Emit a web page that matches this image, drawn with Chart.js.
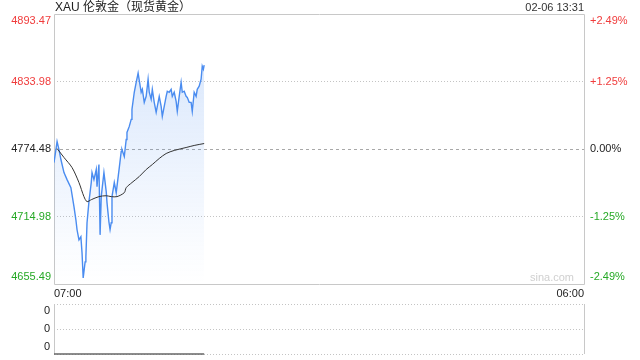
<!DOCTYPE html>
<html>
<head>
<meta charset="utf-8">
<script src="https://cdn.jsdelivr.net/npm/chart.js@4/dist/chart.umd.min.js"></script>
<style>
  body { margin: 0; background: #fff; width: 640px; height: 360px; position: relative; overflow: hidden; }
  #main { position: absolute; left: 0; top: 0; }
  #vol { position: absolute; left: 0; top: 296px; }
  #title { position: absolute; left: 55px; top: 0; font: 12px/14px "Liberation Sans", "Noto Sans CJK SC", sans-serif; color: #222; }
  #stamp { position: absolute; right: 56px; top: 0; font: 11px/14px "Liberation Sans", Arial, sans-serif; color: #333; }
</style>
</head>
<body>
<canvas id="main" width="640" height="300"></canvas>
<canvas id="vol" width="640" height="64"></canvas>
<div id="title">XAU 伦敦金（现货黄金）</div>
<div id="stamp">02-06 13:31</div>
<script>
// 昨收 / 坐标范围
const prevClose = 4774.48
const priceTicks = [4655.49, 4714.98, 4774.48, 4833.98, 4893.47]
const timeLabels = ['07:00', '06:00']
const sessionMinutes = 1380   // 07:00 -> 次日 06:00

// 分时价格 (分钟偏移, 价格)
const priceMinutes = [0, 5, 8, 13, 18, 26, 34, 44, 52, 57, 60, 65, 70, 73, 76, 81, 83, 86, 91, 97,
  99, 104, 110, 112, 117, 120, 123, 125, 130, 136, 138, 143, 146, 149, 151, 157, 162, 170, 175, 177, 183,
  188, 190, 196, 201, 203, 209, 214, 219, 227, 230, 235, 240, 245, 248, 253, 256, 261, 266, 269, 274,
  279, 282, 287, 292, 295, 300, 305, 308, 313, 318, 321, 326, 331, 334, 339, 344, 347, 352, 357, 360,
  365, 370, 373, 378, 383, 386, 389, 391]
const prices = [4762.5, 4774.0, 4781.1, 4774.0, 4765.2, 4753.7, 4747.5, 4740.4, 4723.6, 4712.1,
  4703.3, 4694.4, 4697.1, 4682.9, 4660.8, 4675.0, 4679.4, 4709.5, 4728.1, 4744.9,
  4753.7, 4747.5, 4756.4, 4741.3, 4760.8, 4698.8, 4732.5, 4738.7, 4753.7, 4736.9,
  4727.2, 4710.3, 4703.5, 4709.5, 4732.5, 4744.9, 4736.0, 4758.1, 4772.3, 4774.0, 4767.8,
  4782.9, 4789.1, 4794.4, 4800.6, 4809.4, 4824.5, 4833.3, 4841.3, 4824.5, 4827.1,
  4815.6, 4820.9, 4835.9, 4824.5, 4818.3, 4827.1, 4815.6, 4806.8, 4812.1, 4820.9,
  4812.1, 4803.2, 4812.1, 4820.9, 4825.4, 4824.5, 4827.1, 4820.9, 4824.5, 4816.5,
  4807.7, 4820.9, 4833.3, 4824.5, 4825.4, 4820.9, 4820.0, 4815.6, 4815.6, 4807.7,
  4824.5, 4820.9, 4827.1, 4829.8, 4836.0, 4847.5, 4844.8, 4848.4]

// 均价线
const avgMinutes = [8, 26, 47, 65, 78, 86, 97, 117, 136, 149, 164, 183, 188, 203, 222, 240, 256, 274, 292, 313, 344, 365, 391]
const avgPrices = [4774.9, 4767.0, 4758.1, 4744.9, 4732.5, 4728.1, 4729.8, 4732.5, 4733.3, 4732.5, 4732.5,
  4736.0, 4740.4, 4744.9, 4750.2, 4756.4, 4760.8, 4766.1, 4770.5, 4773.2, 4775.8, 4777.6, 4779.3]

// 成交量 (全为 0)
const volMinutes = [0, 391]
const volumes = [0, 0]
const volTicks = [0, 1, 2]

const RED = '#f03c3c', GREEN = '#26a926', TEXT = '#222'
const priceMin = priceTicks[0], priceMax = priceTicks[priceTicks.length - 1]
const pct = v => (v / prevClose - 1) * 100

Chart.defaults.font.family = '"Liberation Sans", Arial, sans-serif'
Chart.defaults.font.size = 11

const colorFor = v => v > prevClose + 0.001 ? RED : (v < prevClose - 0.001 ? GREEN : TEXT)

// 边框 + 水印
const framePlugin = {
    id: 'frame',
    beforeDatasetsDraw(chart, args, opts) {
        const { ctx, chartArea: a } = chart
        ctx.save()
        ctx.strokeStyle = '#c8c8c8'
        ctx.lineWidth = 1
        ctx.beginPath()
        if (opts.full) {
            ctx.rect(a.left + 0.5, a.top + 0.5, a.right - a.left, a.bottom - a.top)
        } else {
            ctx.moveTo(a.left + 0.5, a.top); ctx.lineTo(a.left + 0.5, a.bottom)
            ctx.moveTo(a.right + 0.5, a.top); ctx.lineTo(a.right + 0.5, a.bottom)
        }
        ctx.stroke()
        if (opts.mark) {
            ctx.fillStyle = '#d0d0d0'
            ctx.font = '11px "Liberation Sans", Arial, sans-serif'
            ctx.textAlign = 'right'
            ctx.textBaseline = 'bottom'
            ctx.fillText(opts.mark, a.right - 10, a.bottom - 1)
        }
        ctx.restore()
    }
}

const edgeLabel = (text, i, n) => i === 0 ? [text, ''] : (i === n - 1 ? ['', text] : text)
const fitY = (w) => (s) => { s.width = w; s.paddingTop = 0; s.paddingBottom = 0 }

const mainChart = new Chart(document.getElementById('main'), {
    type: 'line',
    data: {
        datasets: [
            {
                label: '价格',
                data: priceMinutes.map((m, i) => ({ x: m, y: prices[i] })),
                borderColor: '#4a8cf0',
                borderWidth: 1.4,
                pointRadius: 0,
                tension: 0,
                fill: 'start',
                backgroundColor: (c) => {
                    const a = c.chart.chartArea
                    if (!a) return 'rgba(74,140,240,0.1)'
                    const g = c.chart.ctx.createLinearGradient(0, a.top, 0, a.bottom)
                    g.addColorStop(0, 'rgba(74,140,240,0.24)')
                    g.addColorStop(0.9, 'rgba(74,140,240,0.02)')
                    g.addColorStop(1, 'rgba(74,140,240,0)')
                    return g
                },
                order: 2
            },
            {
                label: '均价',
                data: avgMinutes.map((m, i) => ({ x: m, y: avgPrices[i] })),
                borderColor: '#333',
                borderWidth: 1,
                pointRadius: 0,
                tension: 0.3,
                fill: false,
                order: 1
            }
        ]
    },
    options: {
        responsive: false,
        animation: false,
        layout: { padding: { top: 14, left: 0, right: 0, bottom: 0 } },
        plugins: {
            legend: { display: false },
            tooltip: { enabled: false },
            frame: { full: true, mark: 'sina.com' }
        },
        scales: {
            x: {
                type: 'linear',
                min: 0,
                max: sessionMinutes,
                afterBuildTicks: (s) => { s.ticks = [{ value: 0 }, { value: sessionMinutes }] },
                afterFit: (s) => { s.height = 16; s.paddingLeft = 0; s.paddingRight = 0 },
                ticks: {
                    align: 'inner',
                    autoSkip: false,
                    maxRotation: 0,
                    padding: 3,
                    color: TEXT,
                    callback: (v, i) => timeLabels[i]
                },
                grid: { display: false, drawTicks: false },
                border: { display: false }
            },
            y: {
                position: 'left',
                min: priceMin,
                max: priceMax,
                afterBuildTicks: (s) => { s.ticks = priceTicks.map(v => ({ value: v })) },
                afterFit: fitY(54),
                ticks: {
                    autoSkip: false,
                    padding: 3,
                    color: (c) => colorFor(c.tick.value),
                    callback: (v, i) => edgeLabel(v.toFixed(2), i, priceTicks.length)
                },
                grid: {
                    drawTicks: false,
                    color: (c) => (c.index === 0 || c.index === priceTicks.length - 1) ? 'rgba(0,0,0,0)'
                        : (c.index === 2 ? '#a8a8a8' : '#c4c4c4')
                },
                border: {
                    display: false,
                    dash: (c) => c.index === 2 ? [3, 3] : [1, 2]
                }
            },
            y2: {
                position: 'right',
                min: pct(priceMin),
                max: pct(priceMax),
                afterBuildTicks: (s) => { s.ticks = priceTicks.map(v => ({ value: pct(v) })) },
                afterFit: fitY(56),
                ticks: {
                    autoSkip: false,
                    padding: 6,
                    color: (c) => colorFor(priceTicks[c.index]),
                    callback: (v, i) => {
                        const p = pct(priceTicks[i])
                        const t = (p > 0.001 ? '+' : '') + p.toFixed(2) + '%'
                        return edgeLabel(t, i, priceTicks.length)
                    }
                },
                grid: { display: false, drawTicks: false },
                border: { display: false }
            }
        }
    },
    plugins: [framePlugin]
})

const volChart = new Chart(document.getElementById('vol'), {
    type: 'line',
    data: {
        datasets: [{
            label: '成交量',
            data: volMinutes.map((m, i) => ({ x: m, y: volumes[i] })),
            borderColor: '#666',
            borderWidth: 1.5,
            pointRadius: 0,
            fill: false,
            clip: false
        }]
    },
    options: {
        responsive: false,
        animation: false,
        layout: { padding: { top: 8, left: 0, right: 56, bottom: 6 } },
        plugins: {
            legend: { display: false },
            tooltip: { enabled: false },
            frame: { full: false }
        },
        scales: {
            x: { type: 'linear', min: 0, max: sessionMinutes, display: false },
            y: {
                min: volTicks[0],
                max: volTicks[volTicks.length - 1],
                afterBuildTicks: (s) => { s.ticks = volTicks.map(v => ({ value: v })) },
                afterFit: fitY(54),
                ticks: {
                    autoSkip: false,
                    padding: 4,
                    color: TEXT,
                    callback: (v, i) => edgeLabel('0', i, volTicks.length)
                },
                grid: { drawTicks: false, color: '#c4c4c4' },
                border: { display: false, dash: [1, 2] }
            }
        }
    },
    plugins: [framePlugin]
})
</script>
</body>
</html>
